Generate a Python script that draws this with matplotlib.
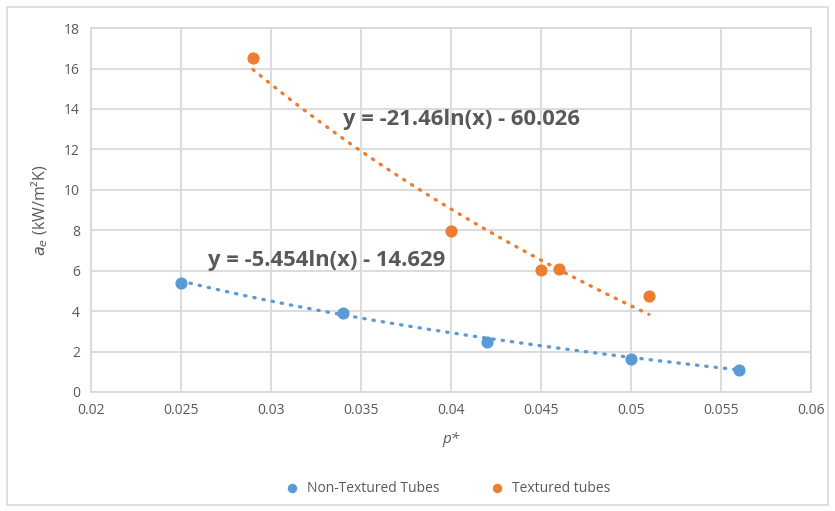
import numpy as np
import matplotlib
matplotlib.use("Agg")
import matplotlib.pyplot as plt
from matplotlib.patches import Rectangle

# Data
x_non = [0.025, 0.034, 0.042, 0.050, 0.056]
y_non = [5.40, 3.93, 2.48, 1.64, 1.10]
x_tex = [0.029, 0.040, 0.045, 0.046, 0.051]
y_tex = [16.52, 7.94, 6.04, 6.07, 4.75]
fit_non = (-5.454, -14.629)
fit_tex = (-21.46, -60.026)
eq_non = "y = -5.454ln(x) - 14.629"
eq_tex = "y = -21.46ln(x) - 60.026"
x_ticks = [0.02, 0.025, 0.03, 0.035, 0.04, 0.045, 0.05, 0.055, 0.06]
x_ticklabels = ["0.02", "0.025", "0.03", "0.035", "0.04", "0.045", "0.05", "0.055", "0.06"]
y_ticks = [0, 2, 4, 6, 8, 10, 12, 14, 16, 18]

BLUE = "#5B9BD5"
ORANGE = "#ED7D31"
GRID = "#D9D9D9"
TXT = "#595959"

plt.rcParams['font.family'] = ['Open Sans', 'DejaVu Sans']

fig = plt.figure(figsize=(8.35, 5.11), dpi=100)
fig.patches.append(Rectangle((0.008, 0.012), 0.984, 0.974, transform=fig.transFigure,
                             fill=False, edgecolor=GRID, linewidth=1.2))
ax = fig.add_axes([0.109, 0.233, 0.862, 0.712])

for xs, ys, (a, b), c in [(x_non, y_non, fit_non, BLUE), (x_tex, y_tex, fit_tex, ORANGE)]:
    xx = np.linspace(min(xs), max(xs), 200)
    ax.plot(xx, a * np.log(xx) + b, color=c, linewidth=2.4,
            linestyle=(0, (0.4, 2.4)), dash_capstyle='round', zorder=2)

ax.scatter(x_non, y_non, s=60, color=BLUE, zorder=3, label="Non-Textured Tubes")
ax.scatter(x_tex, y_tex, s=60, color=ORANGE, zorder=3, label="Textured tubes")

ax.text(0.0265, 6.5, eq_non, fontsize=15.8, fontweight='bold', color=TXT,
        ha='left', va='center', zorder=4)
ax.text(0.034, 13.5, eq_tex, fontsize=15.8, fontweight='bold', color=TXT,
        ha='left', va='center', zorder=4)

ax.set_xlim(0.02, 0.06)
ax.set_ylim(0, 18)
ax.set_xticks(x_ticks)
ax.set_xticklabels(x_ticklabels)
ax.set_yticks(y_ticks)
ax.grid(True, color=GRID, linewidth=1.3)
ax.set_axisbelow(True)
for s in ax.spines.values():
    s.set_color(GRID)
    s.set_linewidth(1.3)
ax.tick_params(length=0, colors=TXT, labelsize=10, pad=8)

ax.set_xlabel("p*", fontsize=11, color=TXT, style='italic', labelpad=10)
ax.set_ylabel(r"$\mathit{a}_{e}$ (kW/m²K)", fontsize=11.5, color=TXT, labelpad=10)

fig.legend(loc='center', bbox_to_anchor=(0.532, 0.045), ncol=2, frameon=False,
           fontsize=10, labelcolor=TXT, handletextpad=0.1, columnspacing=3.1,
           markerscale=0.75)

fig.savefig("out.png", dpi=100)
